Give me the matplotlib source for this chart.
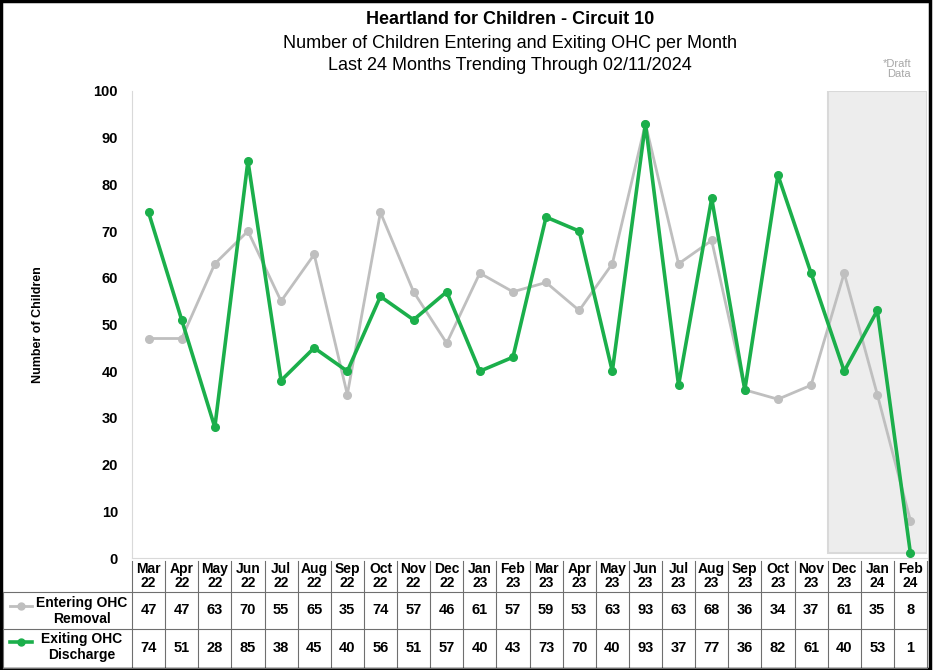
import matplotlib
matplotlib.use("Agg")
import matplotlib.pyplot as plt
from matplotlib.transforms import blended_transform_factory
from matplotlib.patches import Rectangle
from matplotlib.lines import Line2D

# Dados do grafico
meses = ["Mar\n22", "Apr\n22", "May\n22", "Jun\n22", "Jul\n22", "Aug\n22", "Sep\n22", "Oct\n22",
         "Nov\n22", "Dec\n22", "Jan\n23", "Feb\n23", "Mar\n23", "Apr\n23", "May\n23", "Jun\n23",
         "Jul\n23", "Aug\n23", "Sep\n23", "Oct\n23", "Nov\n23", "Dec\n23", "Jan\n24", "Feb\n24"]
entrada = [47, 47, 63, 70, 55, 65, 35, 74, 57, 46, 61, 57, 59, 53, 63, 93, 63, 68, 36, 34, 37, 61, 35, 8]
saida = [74, 51, 28, 85, 38, 45, 40, 56, 51, 57, 40, 43, 73, 70, 40, 93, 37, 77, 36, 82, 61, 40, 53, 1]
rotulos = ["Entering OHC\nRemoval", "Exiting OHC\nDischarge"]
inicio_rascunho = 21  # Dec 23 em diante

cinza = "#BFBFBF"
verde = "#1BAF4B"

plt.rcParams['font.family'] = ['Liberation Sans', 'DejaVu Sans']

W, H = 933, 670
fig = plt.figure(figsize=(W / 100, H / 100), dpi=100)

def fx(px):
    return px / W

def fy(py):
    return 1 - py / H

esq, dir_, topo, base = 132, 927, 91, 558
ax = fig.add_axes([fx(esq), fy(base), fx(dir_ - esq), fy(topo) - fy(base)])

x = list(range(len(meses)))
ax.axvspan(inicio_rascunho - 0.5, len(meses) - 0.5, ymin=0.01, ymax=1.0,
           facecolor="#EDEDED", edgecolor="#D9D9D9", linewidth=1.5, zorder=0)
ax.plot(x, entrada, color=cinza, lw=2, marker="o", ms=5.5, zorder=2)
ax.plot(x, saida, color=verde, lw=2.6, marker="o", ms=5.5, zorder=3)

ax.set_xlim(-0.5, len(meses) - 0.5)
ax.set_ylim(0, 100)
ax.set_yticks(range(0, 101, 10))
ax.tick_params(axis="y", length=0, pad=10, labelsize=10.5)
for t in ax.get_yticklabels():
    t.set_fontweight("bold")
ax.set_xticks([])
for s in ["top", "right"]:
    ax.spines[s].set_visible(False)
ax.spines["left"].set_color("#D9D9D9")
ax.spines["bottom"].set_color("#D9D9D9")
ax.set_ylabel("Number of Children", fontsize=9, fontweight="bold", labelpad=36)

# Titulos
fig.text(fx(510), fy(20), "Heartland for Children - Circuit 10", ha="center", va="center",
         fontsize=13, fontweight="bold")
fig.text(fx(510), fy(44), "Number of Children Entering and Exiting OHC per Month",
         ha="center", va="center", fontsize=13)
fig.text(fx(510), fy(66), "Last 24 Months Trending Through 02/11/2024",
         ha="center", va="center", fontsize=13)
fig.text(fx(911), fy(69), "*Draft\nData", ha="right", va="center", fontsize=8,
         color="#A6A6A6", linespacing=1.1)

# Tabela de dados
tr = blended_transform_factory(ax.transData, fig.transFigure)
linhas_y = [561, 592, 629, 668]
for i, m in enumerate(meses):
    ax.text(i, fy(576), m, transform=tr, ha="center", va="center", fontsize=10,
            fontweight="bold", linespacing=1.0, clip_on=False)
    ax.text(i, fy(610), str(entrada[i]), transform=tr, ha="center", va="center",
            fontsize=10.5, fontweight="bold", clip_on=False)
    ax.text(i, fy(648), str(saida[i]), transform=tr, ha="center", va="center",
            fontsize=10.5, fontweight="bold", clip_on=False)

cor_grade = "#6F6F6F"
for i in range(len(meses) + 1):
    ax.add_line(Line2D([i - 0.5, i - 0.5], [fy(linhas_y[0]), fy(linhas_y[-1])], transform=tr,
                       color=cor_grade, lw=0.8, clip_on=False))
for py in linhas_y[1:]:
    fig.add_artist(Line2D([fx(3), fx(dir_)], [fy(py), fy(py)], color=cor_grade, lw=0.8))
fig.add_artist(Line2D([fx(3), fx(3)], [fy(592), fy(668)], color=cor_grade, lw=0.8))

# Legenda dentro da tabela
for cor, py, rot, lw in [(cinza, 606, rotulos[0], 2), (verde, 642, rotulos[1], 2.6)]:
    fig.add_artist(Line2D([fx(10), fx(32)], [fy(py), fy(py)], color=cor, lw=lw))
    fig.add_artist(Line2D([fx(21)], [fy(py)], color=cor, marker="o", ms=5))
    fig.text(fx(82), fy(py + 5), rot, ha="center", va="center", fontsize=10,
             fontweight="bold", linespacing=1.15)

# Moldura
fig.add_artist(Rectangle((0.001, 0.002), 0.996, 0.996, transform=fig.transFigure,
                         fill=False, edgecolor="black", lw=2.5))

fig.savefig("out.png", dpi=100)
